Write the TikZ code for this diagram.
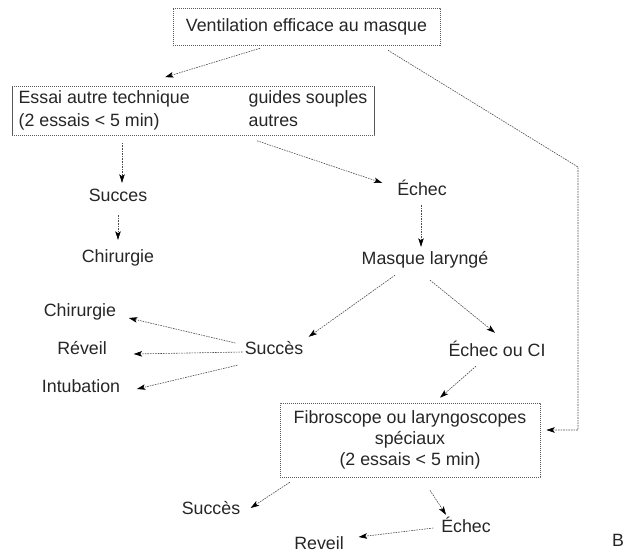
\documentclass[tikz,border=0pt]{standalone}
\usepackage{fontspec}
\setmainfont{Liberation Sans}
\usetikzlibrary{arrows.meta,calc}

\begin{document}
\begin{tikzpicture}[x=1pt,y=-1pt,
    every node/.style={font=\fontsize{17.8}{21}\selectfont, text=black!85},
    lbl/.style={inner sep=2pt, text height=13pt, text depth=4pt},
    boite/.style={draw=black!65, line width=0.6pt, dash pattern=on 1.2pt off 0.8pt},
    fleche/.style={draw=black!70, line width=0.6pt, dash pattern=on 1.6pt off 1pt,
        -{Stealth[length=8.5pt,width=5.5pt,inset=2pt,color=black,fill=black]}}]
    \useasboundingbox (0,0) rectangle (634,553);

    % boites
    \node[boite, minimum width=267pt, minimum height=37pt] (vent) at (306.5,26.5) {Ventilation efficace au masque};
    \node[boite, minimum width=362pt, minimum height=49pt, inner sep=0pt] (essai) at (193,111) {%
        \begin{tabular}{@{}p{230pt}@{}l@{}}
            Essai autre technique & guides souples\\[2pt]
            (2 essais < 5 min) & autres
        \end{tabular}};
    \node[boite, minimum width=260pt, minimum height=74pt, align=center] (fibro) at (410,440)
        {Fibroscope ou laryngoscopes\\spéciaux\\(2 essais < 5 min)};

    % etiquettes
    \node[lbl] (succes1) at (118,197) {Succes};
    \node[lbl] (chir1) at (118,258) {Chirurgie};
    \node[lbl] (echec1) at (422,191) {Échec};
    \node[lbl] (masque) at (425,260) {Masque laryngé};
    \node[lbl] (chir2) at (80,312) {Chirurgie};
    \node[lbl] (reveil2) at (82,350) {Réveil};
    \node[lbl] (intub) at (81,388) {Intubation};
    \node[lbl] (succes2) at (274,350) {Succès};
    \node[lbl] (echecci) at (497,352) {Échec ou CI};
    \node[lbl] (succes3) at (211,510) {Succès};
    \node[lbl] (echec3) at (466,528) {Échec};
    \node[lbl] (reveil3) at (319,545) {Reveil};
    \node[lbl] (lettreB) at (618,542) {B};
    \coordinate (coude) at (578,167);

    % fleches
    \draw[fleche] ($(vent.south)+(-46.5,3)$) -- ($(essai.north)+(-28,-9)$);
    \draw[fleche] ($(vent.south)+(81.5,5)$) -- (coude) |- ($(fibro.east)+(6,-10)$);
    \draw[fleche] ($(essai.south)+(-71,7)$) -- ($(succes1.north)+(4,-3.5)$);
    \draw[fleche] ($(succes1.south)+(0,7.5)$) -- ($(chir1.north)+(0,-7.5)$);
    \draw[fleche] ($(essai.south)+(64,5)$) -- ($(echec1.west)+(-12.7,-8)$);
    \draw[fleche] ($(echec1.south)+(-1,3.5)$) -- ($(masque.north)+(-4,-2.5)$);
    \draw[fleche] ($(masque.south)+(-30,4.5)$) -- ($(succes2.north east)+(3.3,-2.5)$);
    \draw[fleche] ($(masque.south)+(5,9.5)$) -- ($(echecci.north)+(-2,-8.5)$);
    \draw[fleche] ($(succes2.west)+(-7.3,-7)$) -- ($(chir2.east)+(10.5,6)$);
    \draw[fleche] ($(succes2.west)+(0,2)$) -- ($(reveil2.east)+(24.7,4)$);
    \draw[fleche] ($(succes2.south west)+(-5.3,4.5)$) -- ($(intub.east)+(14.6,1)$);
    \draw[fleche] ($(echecci.south)+(-21,3.5)$) -- ($(fibro.north)+(30,-5)$);
    \draw[fleche] ($(fibro.south west)+(10,5)$) -- ($(succes3.east)+(8.3,-2)$);
    \draw[fleche] ($(fibro.south)+(20,13)$) -- ($(echec3.north)+(-20,-2.5)$);
    \draw[fleche] ($(echec3.west)+(-5.7,0)$) -- ($(reveil3.east)+(12.7,-8)$);
\end{tikzpicture}
\end{document}
